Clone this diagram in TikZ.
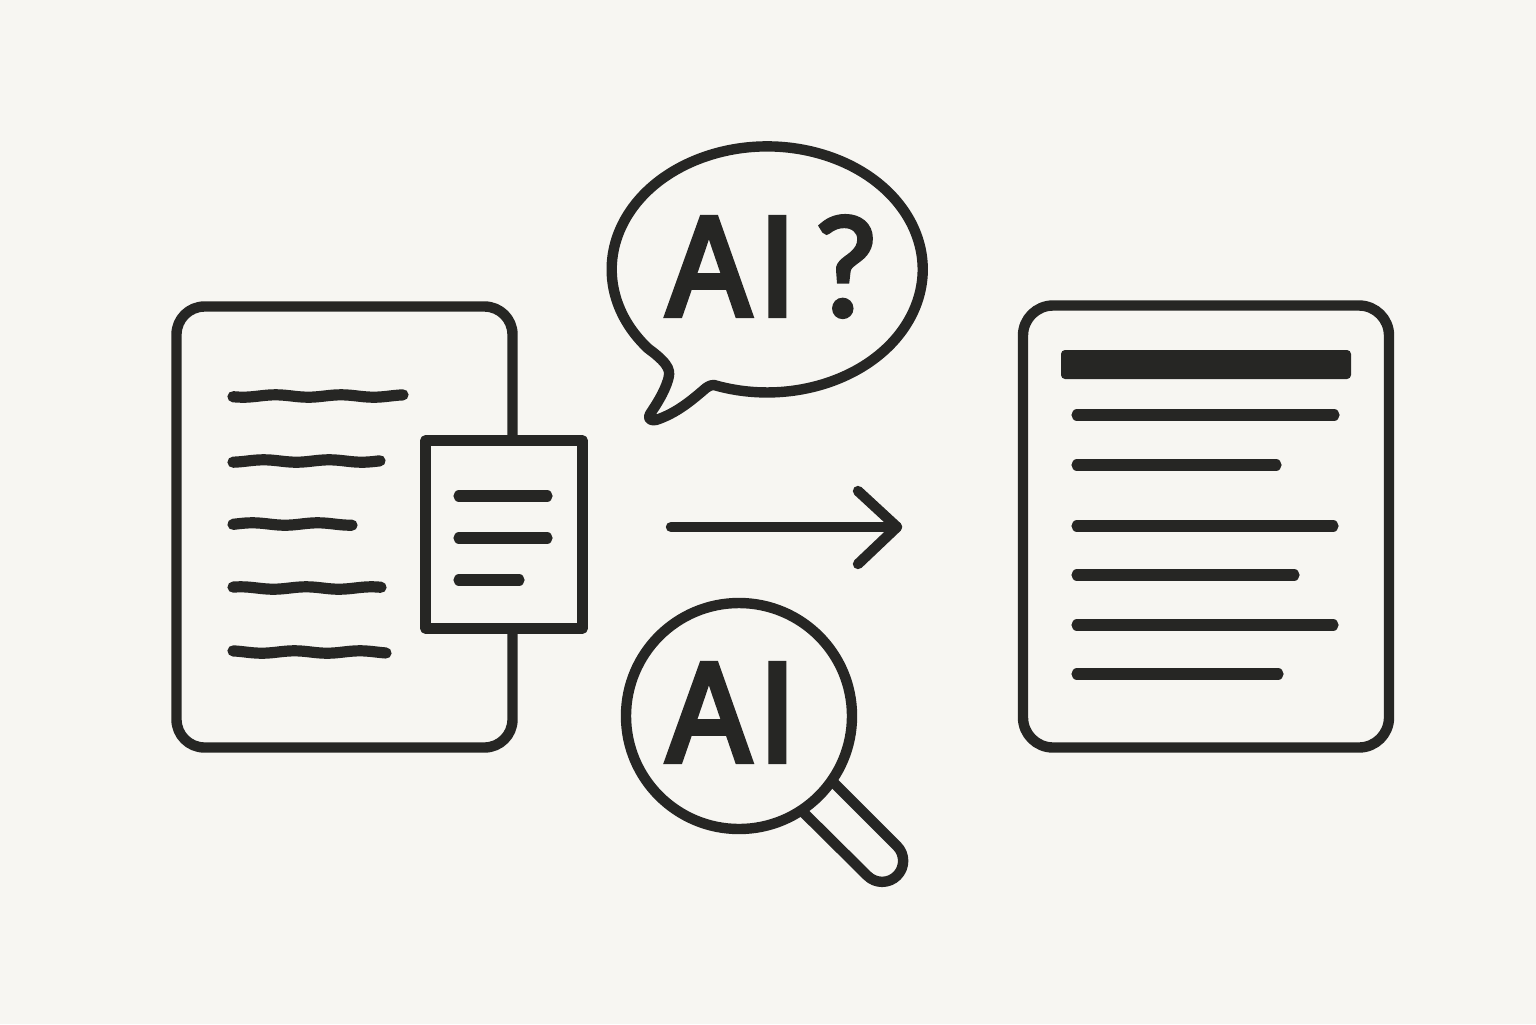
\documentclass[tikz,border=0pt]{standalone}
\usepackage{fontspec}
\usepackage{xcolor}
\usetikzlibrary{math}
\newfontfamily\aifont[FakeBold=4.5,FakeStretch=0.88]{Liberation Sans}
\newfontfamily\markfont[FakeBold=3]{Lato}
\definecolor{qink}{RGB}{38,38,36}
\definecolor{qpaper}{RGB}{247,246,242}
\tikzset{
  outline/.style={color=qink, line width=5.2pt, line join=round},
  textline/.style={color=qink, line width=5.6pt, line cap=round},
  bigtext/.style={color=qink, inner sep=0pt, anchor=base, font=\aifont\fontsize{70.5}{70.5}\selectfont},
}

\begin{document}
\begin{tikzpicture}[x=0.5pt,y=-0.5pt]
\tikzmath{
\Xs = 233;
}

\fill[color=qpaper] (0,0) rectangle (1536,1024);
\useasboundingbox (0,0) rectangle (1536,1024);

\draw[outline, rounded corners=14pt] (176.5,306.5) rectangle (512.5,747.5);
\foreach \y/\xe in {396/403, 461/380, 524/352, 588/381, 652/386}
  \draw[textline] plot[domain=\Xs:\xe, samples=40, smooth, variable=\t] ({\t},{\y+1.2*sin((\t-\Xs)*5.5+\y)});

\draw[outline, fill=qpaper] (425.5,440.5) rectangle (582.5,628.5);
\draw[textline] (459,496) -- (547,496);
\draw[textline] (459,538) -- (547,538);
\draw[textline] (459,580) -- (519,580);

\draw[outline, fill=qpaper] (714,385) arc[start angle=110, end angle=-220, x radius=155.5, y radius=123]
  .. controls (672,366) and (670,372) .. (668,380)
  .. controls (664,393) and (656,405) .. (650,414)
  .. controls (647,419) and (651,421) .. (656,420)
  .. controls (677,413) and (692,400) .. (706,388)
  .. controls (710,385) and (713,385) .. cycle;
\node[bigtext] (askai) at (731,315) {A\kern5pt I};
\node[bigtext, font=\markfont\fontsize{69}{69}\selectfont] (askmark) at (846,316) {?};

\coordinate (arrowtail) at (671,527);
\coordinate (arrowtip) at (897,527);
\draw[outline, line cap=round] (arrowtail) -- (arrowtip);
\draw[outline, line cap=round] (858,491) -- (arrowtip) -- (858,564);

\draw[outline] (830,779) -- (897,846) arc[start angle=-45, end angle=135, radius=21] -- (801,810);
\draw[outline, fill=qpaper] (739,716) circle[radius=113];
\node[bigtext] (lensai) at (731,761) {A\kern5pt I};

\draw[outline, rounded corners=15pt] (1023,305.5) rectangle (1389,747.5);
\fill[color=qink, rounded corners=2pt] (1061,350) rectangle (1351,379);
\foreach \y/\xe in {415/1334, 465/1276, 526/1333, 575/1294, 625/1333, 674/1278}
  \draw[textline] (1077,\y) -- (\xe,\y);

\end{tikzpicture}
\end{document}
